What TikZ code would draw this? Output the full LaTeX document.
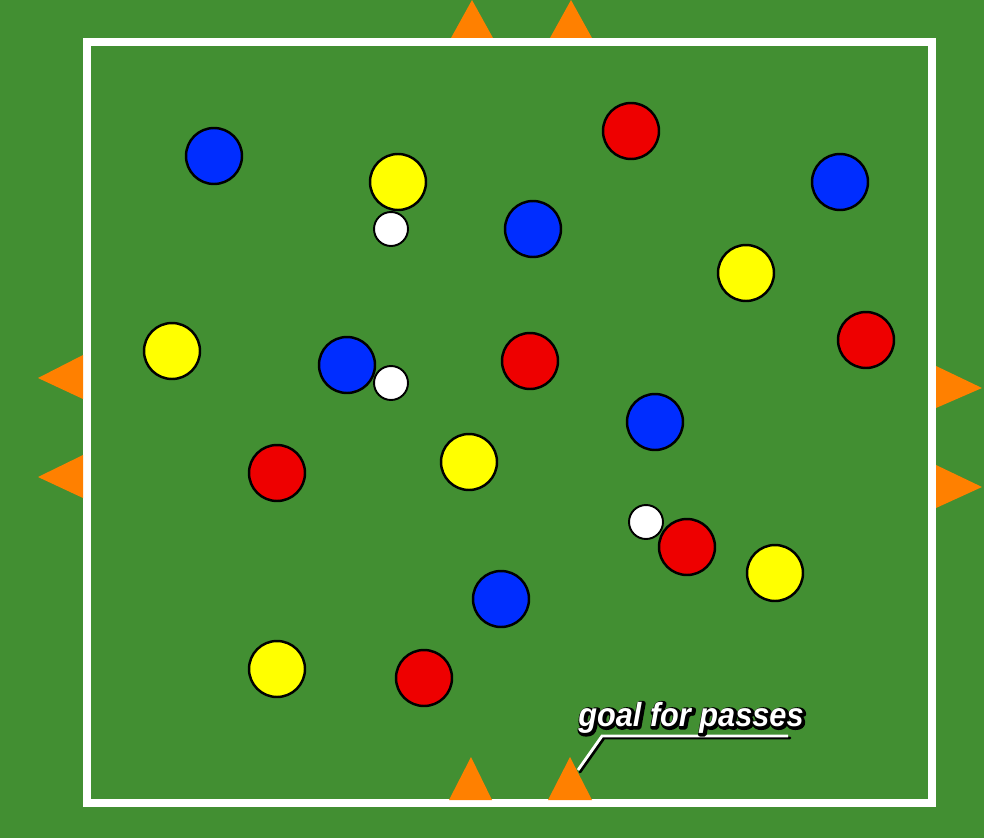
\documentclass[tikz,border=0pt]{standalone}
\usepackage{fontspec}
\newfontfamily\labelfont[FakeStretch=0.92]{Liberation Sans}
\usetikzlibrary{positioning}
\definecolor{pitch}{RGB}{66,143,50}
\definecolor{teamblue}{RGB}{0,45,255}
\definecolor{teamred}{RGB}{238,0,0}
\definecolor{teamyellow}{RGB}{255,255,0}
\definecolor{cone}{RGB}{255,128,0}
% a thick black stroked copy behind, then the white letters
\newcommand\outlinetext[1]{\leavevmode
  \rlap{\hspace*{0.8pt}\raisebox{-0.8pt}{\textcolor{black}{\special{pdf:literal direct 0 0 0 RG 2.6 w 1 j 2 Tr}#1\special{pdf:literal direct 0 Tr}}}}%
  \textcolor{white}{#1}}
\begin{document}
\begin{tikzpicture}[
    x=0.02cm, y=-0.02cm,
    player/.style={circle, draw=black, line width=1.4pt, inner sep=0pt, minimum size=1.12cm},
    ball/.style={circle, draw=black, fill=white, line width=1.1pt, inner sep=0pt, minimum size=0.68cm},
    cone/.style={fill=cone, draw=none},
    tag/.style={font=\labelfont\bfseries\itshape\fontsize{19}{22}\selectfont, inner sep=0pt, anchor=base},
]
% pitch
\fill[pitch] (0,0) rectangle (984,838);
\useasboundingbox (0,0) rectangle (984,838);
\draw[white, line width=4.5pt] (87,42) rectangle (932,803);

% cones
\fill[cone] (451,38) -- (472,0) -- (493,38) -- cycle;
\fill[cone] (550,38) -- (571,0) -- (592,38) -- cycle;
\fill[cone] (449,800) -- (471,757) -- (492,800) -- cycle;
\fill[cone] (548,800) -- (570,757) -- (592,800) -- cycle;
\fill[cone] (83,355) -- (38,378) -- (83,399) -- cycle;
\fill[cone] (83,455) -- (38,477) -- (83,498) -- cycle;
\fill[cone] (936,366) -- (982,388) -- (936,408) -- cycle;
\fill[cone] (936,465) -- (982,487) -- (936,508) -- cycle;

% blue team
\node[player, fill=teamblue] (b1) at (214,156) {};
\node[player, fill=teamblue] (b2) at (533,229) {};
\node[player, fill=teamblue] (b3) at (840,182) {};
\node[player, fill=teamblue] (b4) at (347,365) {};
\node[player, fill=teamblue] (b5) at (655,422) {};
\node[player, fill=teamblue] (b6) at (501,599) {};

% yellow team
\node[player, fill=teamyellow] (y1) at (398,182) {};
\node[player, fill=teamyellow] (y2) at (746,273) {};
\node[player, fill=teamyellow] (y3) at (172,351) {};
\node[player, fill=teamyellow] (y4) at (469,462) {};
\node[player, fill=teamyellow] (y5) at (775,573) {};
\node[player, fill=teamyellow] (y6) at (277,669) {};

% red team
\node[player, fill=teamred] (r1) at (631,131) {};
\node[player, fill=teamred] (r2) at (866,340) {};
\node[player, fill=teamred] (r3) at (530,361) {};
\node[player, fill=teamred] (r4) at (277,473) {};
\node[player, fill=teamred] (r5) at (687,547) {};
\node[player, fill=teamred] (r6) at (424,678) {};

% balls
\node[ball] (ball1) at (391,229) {};
\node[ball] (ball2) at (391,383) {};
\node[ball] (ball3) at (646,522) {};

% label
\coordinate (tagbend) at (602,736);
\coordinate (tagend) at (788,736);
\coordinate (tagtip) at (578,770);
\draw[black, line width=1.6pt, line cap=round] ([shift={(2,2)}]tagend) -- ([shift={(2,2)}]tagbend) -- ([shift={(2,2)}]tagtip);
\draw[white, line width=1.6pt] (tagend) -- (tagbend) -- (tagtip);
\node[tag] (goaltag) at (691,726) {\outlinetext{goal for passes}};
\end{tikzpicture}
\end{document}
